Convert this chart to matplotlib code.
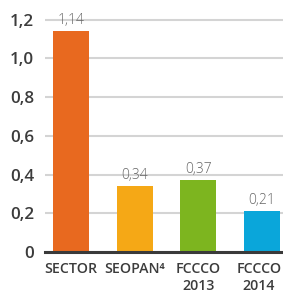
import matplotlib
matplotlib.use("Agg")
import matplotlib.pyplot as plt
import matplotlib.transforms as mtransforms

categories = ["SECTOR", "SEOPAN\u2074", "FCCCO\n2013", "FCCCO\n2014"]
values = [1.14, 0.34, 0.37, 0.21]
value_labels = ["1,14", "0,34", "0,37", "0,21"]
yticks = [0, 0.2, 0.4, 0.6, 0.8, 1.0, 1.2]
ytick_labels = ["0", "0,2", "0,4", "0,6", "0,8", "1,0", "1,2"]
colors = ["#E8691F", "#F5A816", "#7DB51F", "#0AA6DA"]

plt.rcParams["font.family"] = ["Open Sans", "DejaVu Sans"]

fig = plt.figure(figsize=(2.83, 3.0), dpi=100)
ax = fig.add_axes([0.159, 0.16, 0.841, 0.807])

x = list(range(len(values)))
ax.bar(x, values, width=0.57, color=colors, zorder=3)

for xi, v, lab in zip(x, values, value_labels):
    ax.text(xi, v + 0.015, lab, ha="center", va="bottom", fontsize=10,
            color="#666666", fontweight="light", zorder=4)

ax.set_ylim(0, 1.25)
ax.set_xlim(-0.41, 3.33)
ax.set_yticks(yticks)
ax.set_yticklabels(ytick_labels, fontsize=12.3, fontweight="semibold", color="#3c3c3c")
ax.set_xticks(x)
ax.set_xticklabels(categories, fontsize=10.2, fontweight="semibold", color="#3c3c3c",
                   linespacing=1.3)
ax.tick_params(axis="both", length=0)
ax.tick_params(axis="y", pad=8)
ax.tick_params(axis="x", pad=7)

# last label sits against the right edge; nudge it in a little
last = ax.get_xticklabels()[-1]
last.set_transform(last.get_transform() +
                   mtransforms.ScaledTranslation(-3 / 100, 0, fig.dpi_scale_trans))

ax.yaxis.grid(True, color="#d4d4d4", linewidth=1.5, zorder=0)
for s in ["top", "right", "left"]:
    ax.spines[s].set_visible(False)
ax.spines["bottom"].set_color("#3a3a3a")
ax.spines["bottom"].set_linewidth(2.2)
ax.spines["bottom"].set_zorder(5)

fig.savefig("out.png", dpi=100)
